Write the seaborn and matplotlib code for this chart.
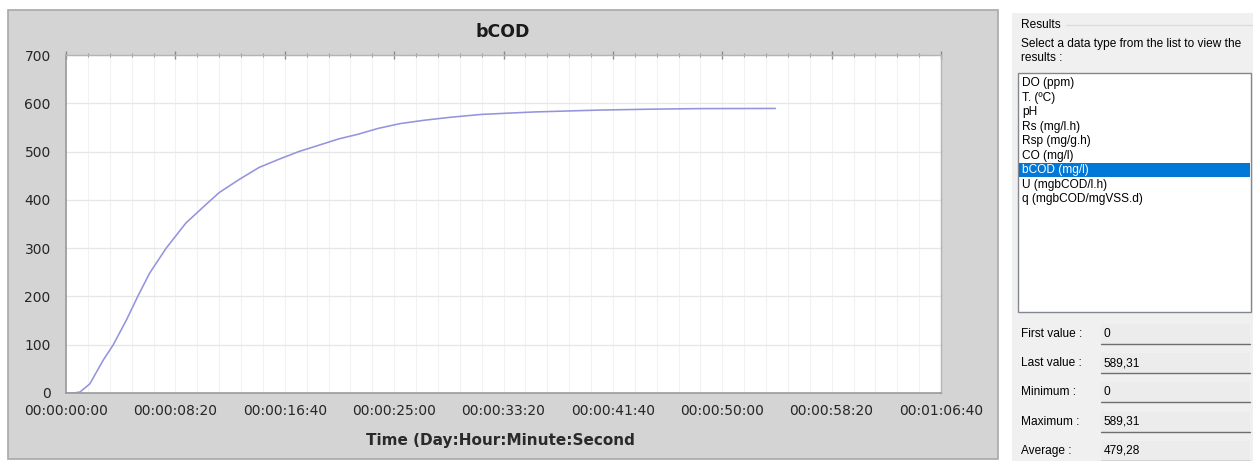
import matplotlib
matplotlib.use("Agg")
import matplotlib.pyplot as plt
import seaborn as sns
import pandas as pd
from matplotlib.patches import Rectangle
from matplotlib.ticker import MultipleLocator, FixedLocator

# ---------------- data ----------------
time_s = [0, 35, 64, 109, 170, 215, 276, 329, 382, 458, 548, 639, 700, 791,
          882, 973, 1064, 1155, 1245, 1336, 1427, 1528, 1640, 1757, 1900,
          2138, 2443, 2700, 2900, 3243]
bcod = [0, 0, 2, 19, 68, 99, 151, 201, 248, 300, 352, 390, 415, 442,
        467, 484, 500, 513, 526, 536, 548, 558, 565, 571, 577,
        582, 586, 588, 589, 589.31]

x_ticks = [0, 500, 1000, 1500, 2000, 2500, 3000, 3500, 4000]
x_tick_labels = ["00:00:00:00", "00:00:08:20", "00:00:16:40", "00:00:25:00",
                 "00:00:33:20", "00:00:41:40", "00:00:50:00", "00:00:58:20",
                 "00:01:06:40"]
y_ticks = [0, 100, 200, 300, 400, 500, 600, 700]

list_items = ["DO (ppm)", "T. (ºC)", "pH", "Rs (mg/l.h)", "Rsp (mg/g.h)",
              "CO (mg/l)", "bCOD (mg/l)", "U (mgbCOD/l.h)", "q (mgbCOD/mgVSS.d)"]
selected_item = "bCOD (mg/l)"
stat_labels = ["First value :", "Last value :", "Minimum :", "Maximum :", "Average :"]
stat_values = ["0", "589,31", "0", "589,31", "479,28"]

df = pd.DataFrame({"time": time_s, "bCOD": bcod})

# ---------------- figure ----------------
sns.set_style("white")
plt.rcParams["font.family"] = ["DejaVu Sans"]

W, H = 1253, 461
fig = plt.figure(figsize=(W / 100, H / 100), dpi=100)
fig.patch.set_facecolor("white")


def fx(px):
    return px / W


def fy(py):
    return 1 - py / H


def frect(x0, y0, x1, y1, z=-5, **kw):
    r = Rectangle((fx(x0), fy(y1)), fx(x1) - fx(x0), fy(y0) - fy(y1),
                  transform=fig.transFigure, zorder=z, **kw)
    fig.patches.append(r)
    return r


# chart panel background
frect(8, 10, 998, 459, z=-10, facecolor="#d4d4d4", edgecolor="#a8a8a8", linewidth=1.2)

# plot area
ax = fig.add_axes([fx(66), fy(393), fx(941) - fx(66), fy(55) - fy(393)])
ax.set_zorder(5)
ax.set_facecolor("white")
sns.lineplot(data=df, x="time", y="bCOD", ax=ax, color="#9494de", linewidth=1.15)

ax.set_xlim(0, 4000)
ax.set_ylim(0, 700)
ax.xaxis.set_major_locator(FixedLocator(x_ticks))
ax.set_xticklabels(x_tick_labels)
ax.xaxis.set_minor_locator(MultipleLocator(100))
ax.yaxis.set_major_locator(FixedLocator(y_ticks))
ax.yaxis.set_minor_locator(MultipleLocator(20))

ax.grid(True, which="major", axis="y", color="#e6e6e6", linewidth=0.9)
ax.grid(True, which="minor", axis="x", color="#f2f2f2", linewidth=0.8)
ax.grid(True, which="major", axis="x", color="#f2f2f2", linewidth=0.8)

for s in ["left", "bottom"]:
    ax.spines[s].set_color("#9a9a9a")
    ax.spines[s].set_linewidth(1.2)
for s in ["top", "right"]:
    ax.spines[s].set_color("#b4b4b4")
    ax.spines[s].set_linewidth(1.0)

ax.tick_params(axis="both", which="major", direction="inout", length=6, width=1,
               color="#8a8a8a", labelsize=10, labelcolor="#262626", top=True)
ax.tick_params(axis="both", which="minor", direction="inout", length=3, width=0.8,
               color="#9a9a9a", top=True)
ax.tick_params(axis="x", which="both", labeltop=False)
ax.tick_params(axis="x", pad=5)
ax.tick_params(axis="y", pad=8)
ax.set_xlabel("")
ax.set_ylabel("")

fig.text(fx(503), fy(32), "bCOD", ha="center", va="center", fontsize=12.5,
         fontweight="bold", color="#1a1a1a")
fig.text(fx(500), fy(440), "Time (Day:Hour:Minute:Second", ha="center", va="center",
         fontsize=11, fontweight="bold", color="#2a2a2a")

# ---------------- right panel ----------------
ui_font = ["Liberation Sans", "DejaVu Sans"]
fs = 8.6
frect(1012, 13, 1253, 461, facecolor="#f0f0f0", edgecolor="none")
fig.lines.append(plt.Line2D([fx(1066), fx(1253)], [fy(25), fy(25)],
                            transform=fig.transFigure, color="#dcdcdc", linewidth=1))
fig.text(fx(1021), fy(25), "Results", ha="left", va="center", fontsize=fs,
         family=ui_font, color="#000000")
fig.text(fx(1021), fy(44), "Select a data type from the list to view the",
         ha="left", va="center", fontsize=fs, family=ui_font, color="#000000")
fig.text(fx(1021), fy(58), "results :", ha="left", va="center", fontsize=fs,
         family=ui_font, color="#000000")

# list box
frect(1018, 73, 1251, 312, z=-4, facecolor="white", edgecolor="#828790", linewidth=1)
for i, item in enumerate(list_items):
    yc = 83 + i * 14.55
    col = "black"
    if item == selected_item:
        frect(1019, yc - 7, 1250, yc + 7, z=-3, facecolor="#0078d7", edgecolor="none")
        col = "white"
    fig.text(fx(1022), fy(yc), item, ha="left", va="center", fontsize=fs,
             family=ui_font, color=col)

# statistic boxes
for i, (lab, val) in enumerate(zip(stat_labels, stat_values)):
    yc = 334 + i * 29.2
    fig.text(fx(1021), fy(yc), lab, ha="left", va="center", fontsize=fs,
             family=ui_font, color="#000000")
    frect(1101, yc - 10, 1250, yc + 10, z=-4, facecolor="#ececec", edgecolor="none")
    fig.lines.append(plt.Line2D([fx(1101), fx(1250)], [fy(yc + 10), fy(yc + 10)],
                                transform=fig.transFigure, color="#6e6e6e", linewidth=1))
    fig.text(fx(1104), fy(yc), val, ha="left", va="center", fontsize=fs,
             family=ui_font, color="#000000")

fig.savefig("out.png", dpi=100, facecolor="white")
